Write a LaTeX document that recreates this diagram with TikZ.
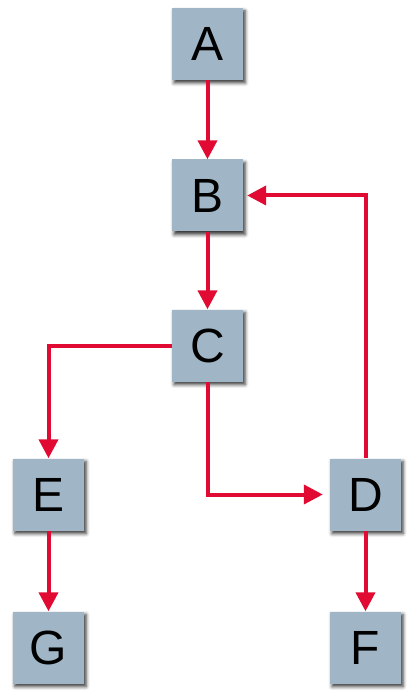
\documentclass[tikz,border=0pt]{standalone}
\usepackage{fontspec}
\setmainfont{Liberation Sans}
\usetikzlibrary{arrows.meta,shadows.blur}
\definecolor{boxfill}{HTML}{A0B6C6}
\definecolor{arrowred}{HTML}{E00A32}
\begin{document}
\begin{tikzpicture}[x=1pt,y=-1pt,
  nodebox/.style={minimum width=71pt,minimum height=72pt,inner sep=0pt,fill=boxfill,
    font=\fontsize{48}{48}\selectfont,
    blur shadow={shadow xshift=2pt,shadow yshift=-3pt,shadow blur radius=3.5pt,shadow opacity=80}},
  link/.style={draw=arrowred,line width=4pt,-{Triangle[width=19pt,length=19pt]}}]
\useasboundingbox (0,0) rectangle (413,692);
\node[nodebox] (A) at (207.5,44) {A};
\node[nodebox] (B) at (207.5,195.5) {B};
\node[nodebox] (C) at (207.5,345.5) {C};
\node[nodebox] (E) at (48.5,494.5) {E};
\node[nodebox] (D) at (365.5,494.5) {D};
\node[nodebox] (G) at (48.5,647.5) {G};
\node[nodebox] (F) at (365.5,647.5) {F};
\draw[link] (A) -- (B);
\draw[link] (B) -- (C);
\draw[link] (C.west) -| (E.north);
\draw[link,shorten >=7pt] (C.south) |- (D.west);
\draw[link,shorten >=4pt] (D.north) |- (B.east);
\draw[link] (E) -- (G);
\draw[link] (D) -- (F);
\end{tikzpicture}
\end{document}
